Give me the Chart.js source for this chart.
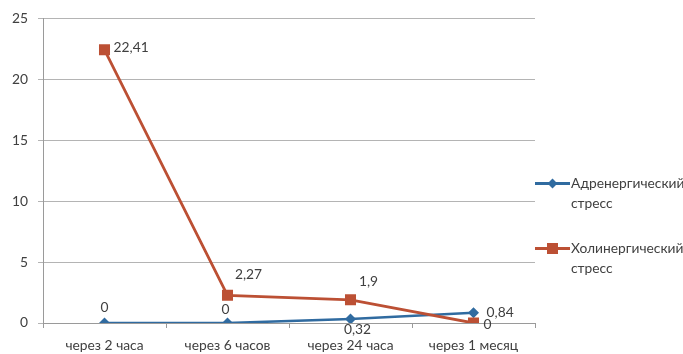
<!DOCTYPE html>
<html>
<head>
<meta charset="utf-8">
<script src="https://cdn.jsdelivr.net/npm/chart.js@4/dist/chart.umd.min.js"></script>
<style>
  html, body { margin: 0; padding: 0; background: #fff; }
  #wrap { position: relative; width: 683px; height: 354px; overflow: hidden; }
  canvas { position: absolute; left: 0; top: 0; }
  .leg { position: absolute; left: 535px; font: 13.8px Lato, sans-serif; color: #404040; line-height: 20px; }
  .leg .sw { position: absolute; left: 0; top: 9px; width: 35px; height: 3px; }
  .leg .txt { position: absolute; left: 36px; top: 0; white-space: nowrap; }
  .leg .mk { position: absolute; }
</style>
</head>
<body>
<div id="wrap">
  <canvas id="c" width="683" height="354"></canvas>
  <div class="leg" style="top:173px">
    <div class="sw" style="background:#306BA0"></div>
    <div class="mk" style="left:14px;top:7px;width:7px;height:7px;background:#306BA0;transform:rotate(45deg)"></div>
    <div class="txt">Адренергический<br>стресс</div>
  </div>
  <div class="leg" style="top:238px">
    <div class="sw" style="background:#BC5034"></div>
    <div class="mk" style="left:12px;top:5px;width:11px;height:11px;background:#BC5034"></div>
    <div class="txt">Холинергический<br>стресс</div>
  </div>
</div>
<script>
// Time points after the stress exposure
const categories = ['через 2 часа', 'через 6 часов', 'через 24 часа', 'через 1 месяц'];
// Series values
const adrenergic = [0, 0, 0.32, 0.84];
const cholinergic = [22.41, 2.27, 1.9, 0];
const seriesNames = ['Адренергический стресс', 'Холинергический стресс'];
// Y axis tick values
const yTicks = [0, 5, 10, 15, 20, 25];

// Value-label placement next to each point: [dx, dy, textAlign]
const labelPlacement = [
  [[0, -15, 'center'], [-2, -13, 'center'], [7, 10, 'center'], [13, 0, 'left']],
  [[9, -2, 'left'], [21, -21, 'center'], [18, -18, 'center'], [10, 2, 'left']]
];

const labelFont = '13.8px Lato, sans-serif';

const valueLabels = {
  id: 'valueLabels',
  afterDatasetsDraw(chart) {
    const ctx = chart.ctx;
    ctx.save();
    ctx.font = labelFont;
    ctx.fillStyle = '#404040';
    ctx.textBaseline = 'middle';
    chart.data.datasets.forEach((ds, di) => {
      const meta = chart.getDatasetMeta(di);
      meta.data.forEach((pt, i) => {
        const [dx, dy, align] = labelPlacement[di][i];
        ctx.textAlign = align;
        ctx.fillText(String(ds.data[i]).replace('.', ','), pt.x + dx, pt.y + dy);
      });
    });
    ctx.restore();
  }
};

new Chart(document.getElementById('c'), {
  type: 'line',
  data: {
    labels: categories,
    datasets: [
      {
        label: seriesNames[0],
        data: adrenergic,
        borderColor: '#306BA0',
        backgroundColor: '#306BA0',
        borderWidth: 2.5,
        pointStyle: 'rectRot',
        pointRadius: 5.5,
        pointBorderWidth: 0,
        tension: 0,
        order: 1
      },
      {
        label: seriesNames[1],
        data: cholinergic,
        borderColor: '#BC5034',
        backgroundColor: '#BC5034',
        borderWidth: 2.8,
        pointStyle: 'rect',
        pointRadius: 7.8,
        pointBorderWidth: 0,
        tension: 0,
        order: 0
      }
    ]
  },
  options: {
    responsive: false,
    animation: false,
    devicePixelRatio: 1,
    layout: { padding: { left: 0, right: 148, top: 17, bottom: 0 } },
    plugins: { legend: { display: false }, tooltip: { enabled: false } },
    scales: {
      x: {
        offset: true,
        grid: { offset: true, drawOnChartArea: false, tickLength: 5, color: '#9a9a9a', lineWidth: 1 },
        border: { color: '#9a9a9a', width: 1 },
        ticks: { color: '#404040', font: { family: 'Lato', size: 13.8 }, padding: 9, maxRotation: 0 },
        afterFit: s => { s.height = 31; }
      },
      y: {
        min: 0,
        max: 25,
        afterBuildTicks: s => { s.ticks = yTicks.map(v => ({ value: v })); },
        grid: { color: '#b4b4b4', lineWidth: 1, tickLength: 5 },
        border: { color: '#9a9a9a', width: 1 },
        ticks: { color: '#404040', font: { family: 'Lato', size: 13.8 }, padding: 10 },
        afterFit: s => { s.width = 43; }
      }
    }
  },
  plugins: [valueLabels]
});
</script>
</body>
</html>
